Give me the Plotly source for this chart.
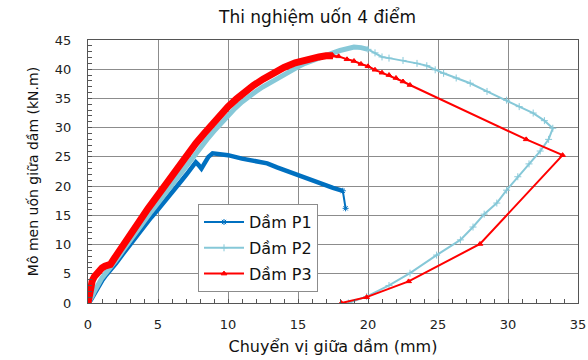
import plotly.graph_objects as go

# ---- data (mm, kN.m) ----
p1_load_x = [0, 0.2, 0.4, 0.7, 1.0, 1.3, 1.6, 2.0, 2.5, 3.0, 3.5, 4.0, 4.5, 5.0, 5.5, 6.0, 6.5, 7.0, 7.4, 7.7,
             7.9, 8.1, 8.3, 8.6, 8.9, 9.5, 10.0, 11.0, 12.0, 12.8, 13.5, 14.3, 15.1, 15.9, 16.7, 17.5, 18.2]
p1_load_y = [0, 0.5, 1.3, 2.6, 3.8, 4.8, 5.6, 6.8, 8.4, 10.0, 11.6, 13.1, 14.6, 16.0, 17.4, 18.9, 20.4, 21.9, 23.3, 24.1,
             23.6, 23.0, 23.8, 25.0, 25.6, 25.5, 25.3, 24.7, 24.2, 23.9, 23.2, 22.5, 21.6, 21.0, 20.3, 19.7, 19.2]
p1_tail_x = [18.2, 18.4]
p1_tail_y = [19.2, 16.2]

p2_load_x = [0, 0.15, 0.3, 0.5, 0.8, 1.0, 1.3, 1.6, 2.0, 2.5, 3.0, 3.5, 4.0, 4.5, 5.0, 5.5, 6.0, 6.5, 7.0, 7.5,
             8.0, 8.5, 9.0, 9.5, 10.0, 10.5, 11.0, 11.5, 12.0, 12.5, 13.0, 13.5, 14.0, 14.5, 15.0, 15.5, 16.0,
             16.5, 17.0, 17.5, 18.0, 18.5, 19.0, 19.5, 20.0]
p2_load_y = [0, 0.5, 1.2, 2.2, 3.5, 4.3, 5.2, 6.0, 7.3, 9.0, 10.7, 12.4, 14.0, 15.6, 17.1, 18.7, 20.3, 21.8, 23.4, 25.0,
             26.5, 28.0, 29.4, 30.8, 32.1, 33.3, 34.4, 35.4, 36.2, 37.0, 37.7, 38.5, 39.2, 39.9, 40.4, 41.0, 41.5,
             41.9, 42.4, 42.8, 43.2, 43.6, 43.8, 43.7, 43.4]
p2_tail_x = [20.0, 20.5, 21.0, 21.5, 22.5, 23.5, 24.2, 24.8, 25.4, 26.3, 27.3, 28.5, 29.9, 30.8, 31.8, 32.6, 33.2,
             32.9, 32.3, 31.5, 30.7, 29.9, 29.2, 28.3, 27.5, 26.6, 24.9, 23.0, 21.5, 19.9, 18.6]
p2_tail_y = [43.4, 42.8, 42.1, 41.9, 41.5, 41.0, 40.6, 39.9, 39.3, 38.5, 37.6, 36.2, 34.7, 33.6, 32.5, 31.2, 29.9,
             28.0, 26.0, 23.8, 21.6, 19.3, 17.1, 15.2, 13.0, 10.8, 8.2, 5.1, 3.0, 1.1, 0]

p3_load_x = [0, 0.05, 0.1, 0.2, 0.3, 0.45, 0.6, 0.8, 1.0, 1.2, 1.4, 1.6, 1.9, 2.3, 2.8, 3.3, 3.8, 4.3, 4.8, 5.3,
             5.9, 6.5, 7.1, 7.7, 8.3, 8.9, 9.5, 10.0, 10.6, 11.2, 11.8, 12.5, 13.2, 14.0, 14.8, 15.5, 16.0, 16.5,
             17.0, 17.5]
p3_load_y = [0, 1.0, 2.0, 3.0, 3.8, 4.5, 5.0, 5.6, 6.0, 6.3, 6.3, 6.6, 7.7, 9.2, 11.0, 12.8, 14.5, 16.2, 17.8, 19.5,
             21.5, 23.5, 25.5, 27.3, 29.0, 30.7, 32.3, 33.6, 34.9, 36.1, 37.2, 38.3, 39.3, 40.3, 41.1, 41.6, 41.9,
             42.1, 42.3, 42.3]
p3_tail_x = [17.5, 17.9, 18.5, 19.0, 19.5, 20.0, 20.5, 21.0, 21.5, 22.0, 22.5, 23.0, 31.3, 33.9, 28.0, 22.9, 19.9, 18.1]
p3_tail_y = [42.3, 42.2, 41.7, 41.4, 40.9, 40.5, 39.9, 39.4, 39.0, 38.5, 37.9, 37.3, 28.0, 25.3, 10.1, 3.7, 1.0, 0]

names = ["Dầm P1", "Dầm P2", "Dầm P3"]
colors = ["#0070C0", "#86C8D8", "#FF0000"]
x_ticks = [0, 5, 10, 15, 20, 25, 30, 35]
y_ticks = [0, 5, 10, 15, 20, 25, 30, 35, 40, 45]

series = [
    (p1_load_x, p1_load_y, p1_tail_x, p1_tail_y, 4.5, "asterisk-open"),
    (p2_load_x, p2_load_y, p2_tail_x, p2_tail_y, 5, "cross-thin-open"),
    (p3_load_x, p3_load_y, p3_tail_x, p3_tail_y, 7, "triangle-up"),
]

fig = go.Figure()
for i, (lx, ly, tx, ty, lw, sym) in enumerate(series):
    fig.add_trace(go.Scatter(x=lx, y=ly, mode="lines", line=dict(color=colors[i], width=lw),
                             showlegend=False, legendgroup=names[i], hoverinfo="skip"))
    fig.add_trace(go.Scatter(x=tx, y=ty, mode="lines+markers", name=names[i], legendgroup=names[i],
                             line=dict(color=colors[i], width=2),
                             marker=dict(symbol=sym, size=5, color=colors[i],
                                         line=dict(color=colors[i], width=1))))

axis_common = dict(
    showgrid=True, gridcolor="#8c8c8c", gridwidth=1,
    showline=True, linecolor="#555555", linewidth=1, mirror=True,
    ticks="inside", ticklen=4, tickcolor="#555555",
    zeroline=False, automargin=False,
    tickfont=dict(family="DejaVu Sans", size=13, color="#222222"),
)

fig.update_layout(
    width=588, height=360,
    margin=dict(l=88, r=10, t=40, b=57),
    paper_bgcolor="white", plot_bgcolor="white",
    title=dict(text="Thi nghiệm uốn 4 điểm", x=0.54, xanchor="center", y=0.953, yanchor="middle",
               font=dict(family="DejaVu Sans", size=17, color="#111111")),
    xaxis=dict(range=[0, 35], tickvals=x_ticks, ticktext=[str(v) for v in x_ticks],
               minor=dict(dtick=1, ticks="inside", ticklen=4, tickcolor="#555555", showgrid=False),
               ticklabelstandoff=9,
               title=dict(text="Chuyển vị giữa dầm (mm)", standoff=10,
                          font=dict(family="DejaVu Sans", size=16, color="#111111")),
               **axis_common),
    yaxis=dict(range=[0, 45], tickvals=y_ticks, ticktext=[str(v) for v in y_ticks],
               minor=dict(dtick=1, ticks="inside", ticklen=4, tickcolor="#555555", showgrid=False),
               ticklabelstandoff=13,
               title=dict(text="Mô men uốn giữa dầm (kN.m)", standoff=12,
                          font=dict(family="DejaVu Sans", size=14, color="#111111")),
               **axis_common),
    legend=dict(x=0.2245, y=0.376, xanchor="left", yanchor="top",
                bgcolor="white", bordercolor="#8c8c8c", borderwidth=1,
                font=dict(family="DejaVu Sans", size=16, color="#111111"),
                tracegroupgap=2, itemwidth=40),
)

fig.write_html("out.html")
